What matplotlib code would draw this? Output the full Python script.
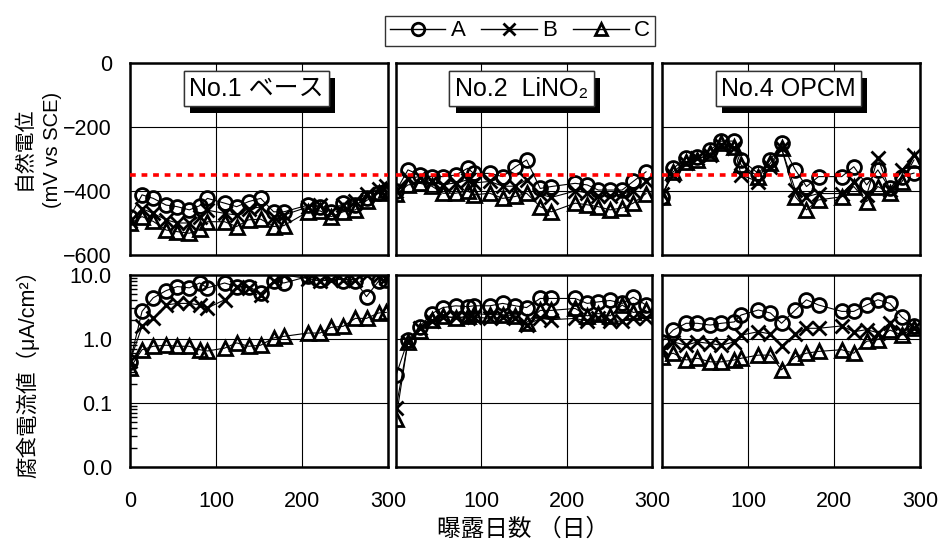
import matplotlib
matplotlib.use("Agg")
import matplotlib.pyplot as plt
import matplotlib.patheffects as pe
from matplotlib.lines import Line2D
from matplotlib.ticker import FixedLocator, FixedFormatter, LogLocator, NullFormatter

plt.rcParams['font.family'] = ['Liberation Sans', 'Noto Sans CJK JP']

# exposure days per panel
days1 = [0, 14, 27, 42, 55, 69, 81, 90, 110, 124, 138, 152, 167, 179, 207, 221, 234, 248, 262, 275, 289, 298]
days2 = [0, 14, 28, 42, 55, 70, 84, 91, 110, 125, 140, 153, 169, 182, 210, 224, 237, 251, 265, 278, 293]
days3 = [0, 13, 28, 41, 56, 69, 84, 92, 112, 126, 139, 155, 168, 182, 209, 223, 238, 251, 265, 279, 293]

titles = ['No.1 ベース', 'No.2  LiNO₂', 'No.4 OPCM']
series = ['A', 'B', 'C']
markers = ['o', 'x', '^']

# natural potential (mV vs SCE)
pot1_A = [-480, -412, -423, -444, -449, -459, -446, -423, -438, -449, -433, -423, -465, -465, -444, -449, -465, -438, -444, -423, -407, -400]
pot1_B = [-495, -455, -470, -490, -500, -500, -480, -460, -470, -475, -455, -450, -480, -475, -450, -445, -465, -445, -430, -410, -395, -385]
pot1_C = [-501, -480, -495, -522, -527, -532, -520, -496, -496, -511, -490, -488, -511, -508, -465, -462, -480, -465, -459, -430, -407, -398]

pot2_A = [-400, -334, -350, -355, -355, -350, -329, -345, -345, -355, -324, -303, -392, -386, -376, -381, -397, -397, -397, -370, -340]
pot2_B = [-400, -360, -355, -370, -380, -375, -365, -375, -370, -385, -385, -365, -410, -420, -400, -405, -415, -415, -410, -400, -370]
pot2_C = [-410, -381, -376, -385, -407, -407, -400, -412, -407, -423, -417, -407, -449, -465, -438, -443, -449, -459, -453, -438, -408]

pot3_A = [-418, -329, -298, -293, -272, -244, -244, -303, -345, -303, -251, -334, -386, -355, -355, -324, -381, -334, -392, -355, -344]
pot3_B = [-408, -350, -313, -298, -288, -257, -267, -350, -371, -324, -267, -397, -418, -408, -408, -371, -412, -298, -397, -334, -288]
pot3_C = [-418, -340, -308, -303, -282, -251, -262, -319, -355, -313, -267, -418, -459, -428, -418, -386, -433, -386, -407, -371, -303]

# corrosion current density (uA/cm2)
cur1_A = [0.44, 2.7, 4.4, 5.7, 6.6, 6.3, 7.5, 6.3, 7.5, 6.6, 6.6, 5.2, 8.0, 7.5, 9.5, 8.5, 10.5, 8.0, 8.0, 4.6, 8.0, 8.5]
cur1_B = [0.45, 1.58, 2.1, 3.4, 3.6, 3.6, 3.4, 3.05, 4.1, 6.6, 6.3, 4.9, 8.0, 10.0, 8.8, 8.0, 8.5, 8.5, 8.5, 10.0, 9.5, 9.0]
cur1_C = [0.35, 0.68, 0.77, 0.8, 0.77, 0.77, 0.68, 0.65, 0.72, 0.87, 0.77, 0.8, 1.04, 1.1, 1.24, 1.24, 1.52, 1.58, 2.1, 2.1, 2.55, 2.6]

cur2_A = [0.27, 0.96, 1.55, 2.5, 3.1, 3.3, 3.2, 3.3, 3.3, 3.6, 3.3, 3.1, 4.3, 4.3, 4.3, 3.6, 3.8, 4.0, 3.6, 4.5, 3.4]
cur2_B = [0.083, 0.9, 1.5, 1.9, 2.2, 2.2, 2.1, 2.2, 2.1, 2.2, 2.1, 1.65, 2.1, 2.0, 2.1, 1.9, 2.1, 1.9, 1.9, 2.1, 2.1]
cur2_C = [0.057, 0.9, 1.35, 2.0, 2.3, 2.1, 2.3, 2.5, 2.4, 2.4, 2.3, 1.8, 2.8, 2.8, 3.0, 2.3, 2.5, 2.3, 3.4, 2.6, 2.8]

cur3_A = [0.91, 1.38, 1.76, 1.76, 1.65, 1.76, 1.85, 2.37, 2.84, 2.55, 1.76, 2.84, 4.1, 3.4, 2.7, 2.7, 3.4, 4.1, 3.6, 2.2, 1.6]
cur3_B = [0.7, 0.9, 0.8, 0.9, 0.85, 0.8, 0.9, 1.15, 1.3, 1.2, 0.78, 1.2, 1.47, 1.47, 1.6, 1.3, 1.4, 1.25, 1.8, 1.3, 1.5]
cur3_C = [0.53, 0.6, 0.47, 0.5, 0.44, 0.44, 0.47, 0.5, 0.56, 0.56, 0.33, 0.53, 0.6, 0.64, 0.68, 0.6, 0.92, 0.98, 1.38, 1.15, 1.5]

days = [days1, days2, days3]
pot = [[pot1_A, pot1_B, pot1_C], [pot2_A, pot2_B, pot2_C], [pot3_A, pot3_B, pot3_C]]
cur = [[cur1_A, cur1_B, cur1_C], [cur2_A, cur2_B, cur2_C], [cur3_A, cur3_B, cur3_C]]

W, H = 941, 547
fig = plt.figure(figsize=(W / 100, H / 100), dpi=100)

lefts = [130, 396, 662]
widths = [258, 256, 258]
top_y = (63, 255)
bot_y = (275, 467)
TICK_FS = 15.5


def style_axes(ax):
    for s in ax.spines.values():
        s.set_linewidth(1.8)
    ax.grid(True, which='major', color='black', lw=0.8)
    ax.set_axisbelow(True)
    ax.set_xlim(0, 300)
    ax.xaxis.set_major_locator(FixedLocator([0, 100, 200, 300]))
    ax.tick_params(which='major', length=0)


for i in range(3):
    x0 = lefts[i] / W
    w = widths[i] / W
    ax_t = fig.add_axes([x0, 1 - top_y[1] / H, w, (top_y[1] - top_y[0]) / H])
    ax_b = fig.add_axes([x0, 1 - bot_y[1] / H, w, (bot_y[1] - bot_y[0]) / H])

    for j in range(3):
        kw = dict(color='black', lw=0.8, marker=markers[j], ms=10, mew=2,
                  mfc='none', mec='black')
        ax_t.plot(days[i], pot[i][j], **kw)
        ax_b.plot(days[i], cur[i][j], **kw)

    # top: natural potential
    style_axes(ax_t)
    ax_t.set_ylim(-600, 0)
    ax_t.yaxis.set_major_locator(FixedLocator([-600, -400, -200, 0]))
    ax_t.axhline(-350, color='red', lw=2.6, ls=(0, (1.6, 1.6)), zorder=5)
    ax_t.set_xticklabels([])
    t = ax_t.text(0.49, 0.865, titles[i], transform=ax_t.transAxes, ha='center', va='center',
                  fontsize=18, zorder=10,
                  bbox=dict(boxstyle='square,pad=0.22', fc='white', ec='#333333', lw=1))
    t.get_bbox_patch().set_path_effects([
        pe.withSimplePatchShadow(offset=(4.5, -4.5), shadow_rgbFace='black', alpha=1.0),
        pe.Normal()])

    # bottom: corrosion current
    ax_b.set_yscale('log')
    style_axes(ax_b)
    ax_b.set_ylim(0.01, 10)
    ax_b.yaxis.set_major_locator(FixedLocator([0.01, 0.1, 1, 10]))
    ax_b.yaxis.set_major_formatter(FixedFormatter(['0.0', '0.1', '1.0', '10.0']))
    if i == 0:
        ax_b.yaxis.set_minor_locator(LogLocator(base=10, subs=range(2, 10)))
        ax_b.yaxis.set_minor_formatter(NullFormatter())
        ax_b.tick_params(axis='y', which='minor', direction='in', length=5, width=1)
        ax_t.tick_params(axis='y', labelsize=TICK_FS, pad=13)
        ax_b.tick_params(axis='y', labelsize=TICK_FS, pad=13)
        ax_b.set_xticklabels(['0', '100', '200', '300'])
    else:
        ax_b.yaxis.set_minor_locator(FixedLocator([]))
        ax_t.set_yticklabels([])
        ax_b.set_yticklabels([])
        ax_b.set_xticklabels(['', '100', '200', '300'])
    ax_b.tick_params(axis='x', labelsize=TICK_FS, pad=17)

# axis titles
fig.text(24 / W, 1 - 148 / H, '自然電位', rotation=90, ha='center', va='center', fontsize=15)
fig.text(53 / W, 1 - 150 / H, '(mV vs SCE)', rotation=90, ha='center', va='center', fontsize=14.5)
fig.text(28 / W, 1 - 368 / H, '腐食電流値（μA/cm²）', rotation=90, ha='center', va='center', fontsize=15.5)
fig.text(523 / W, 1 - 530 / H, '曝露日数 （日）', ha='center', va='center', fontsize=17)

# legend
handles = [Line2D([], [], color='black', lw=1, marker=m, ms=9, mew=2, mfc='none', mec='black')
           for m in markers]
leg = fig.legend(handles, series, loc='center', bbox_to_anchor=(520 / W, 1 - 31 / H), ncol=3,
                 fontsize=16, frameon=True, fancybox=False, edgecolor='black',
                 handlelength=2.5, handletextpad=0.25, columnspacing=0.7, borderpad=0.2)
leg.get_frame().set_linewidth(1)

fig.savefig('out.png', dpi=100)
